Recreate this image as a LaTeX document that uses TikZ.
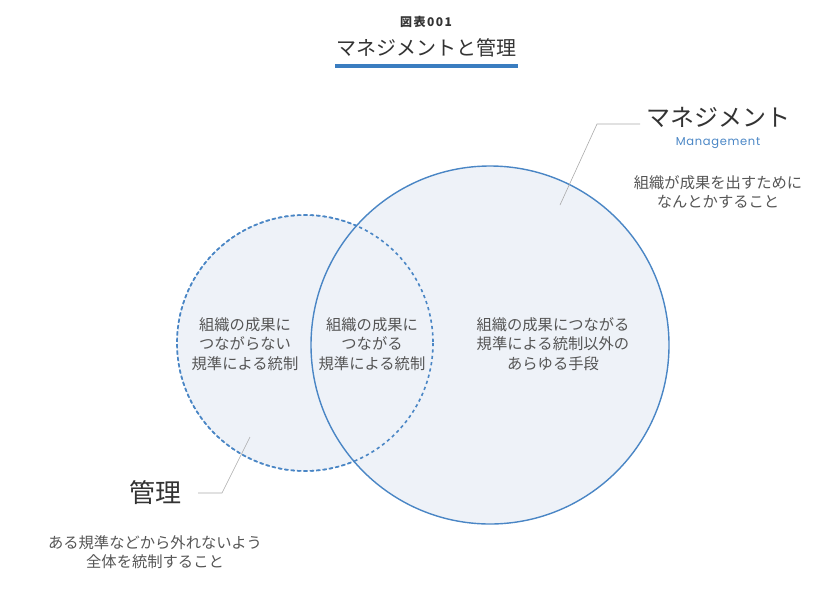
\documentclass[tikz,border=0pt]{standalone}
\usepackage{fontspec}
\setmainfont{Noto Sans CJK JP}
\newfontfamily\latinfont{Poppins}
\usepackage{tikz}
\usetikzlibrary{positioning}

\definecolor{diagblue}{HTML}{4A86C5}
\definecolor{barblue}{HTML}{3A7DC0}
\definecolor{fillgray}{HTML}{EEF2F8}
\definecolor{txtgray}{HTML}{555555}
\definecolor{leadgray}{HTML}{AAAAAA}

\begin{document}
\begin{tikzpicture}[
  x=1pt, y=-1pt,
  body/.style={text=txtgray, align=center, font=\fontsize{15.3}{19.5}\selectfont, inner sep=0pt},
  heading/.style={text=black!80, inner sep=0pt},
  leader/.style={draw=leadgray, line width=0.6pt},
  setbig/.style={draw=diagblue, line width=1.4pt, fill=fillgray},
  setsmall/.style={draw=diagblue, line width=1.6pt, dash pattern=on 3.2pt off 3.2pt, fill=fillgray}
]
\useasboundingbox (0,0) rectangle (838,592);

% title
\node[heading, font=\fontsize{12}{14}\selectfont\bfseries\addfontfeature{LetterSpace=12}] (fig) at (426,22) {図表001};
\node[heading, font=\fontsize{20}{22}\selectfont] (title) at (426,48) {マネジメントと管理};
\fill[barblue] (335,64) rectangle (518,68);

% sets
\node[setsmall, circle, minimum size=256pt] (kanri) at (305,343) {};
\node[setbig, circle, minimum size=358pt] (mgmt) at (490,345) {};
\draw[setsmall, fill=none] (305,343) circle (128);

% texts inside
\node[body] (only) at (245,344) {組織の成果に\\つながらない\\規準による統制};
\node[body] (both) at (372,344) {組織の成果に\\つながる\\規準による統制};
\node[body] (rest) at (553,344) {組織の成果につながる\\規準による統制以外の\\あらゆる手段};

% management label
\node[heading, font=\fontsize{24}{28}\selectfont] (mlabel) at (718,117) {マネジメント};
\node[text=diagblue, inner sep=0pt, font=\latinfont\fontsize{11.5}{13}\selectfont\addfontfeature{LetterSpace=6}] (men) at (718,143) {Management};
\node[body] (mdesc) at (718,192) {組織が成果を出すために\\なんとかすること};
\coordinate (mbend) at (597,124);
\draw[leader] (560,205) -- (mbend) -- (640,124);

% kanri label
\node[heading, font=\fontsize{26}{30}\selectfont] (klabel) at (155,493) {管理};
\node[body] (kdesc) at (155,552) {ある規準などから外れないよう\\全体を統制すること};
\coordinate (kbend) at (222,493);
\draw[leader] (250,437) -- (kbend) -- (198,493);
\end{tikzpicture}
\end{document}
